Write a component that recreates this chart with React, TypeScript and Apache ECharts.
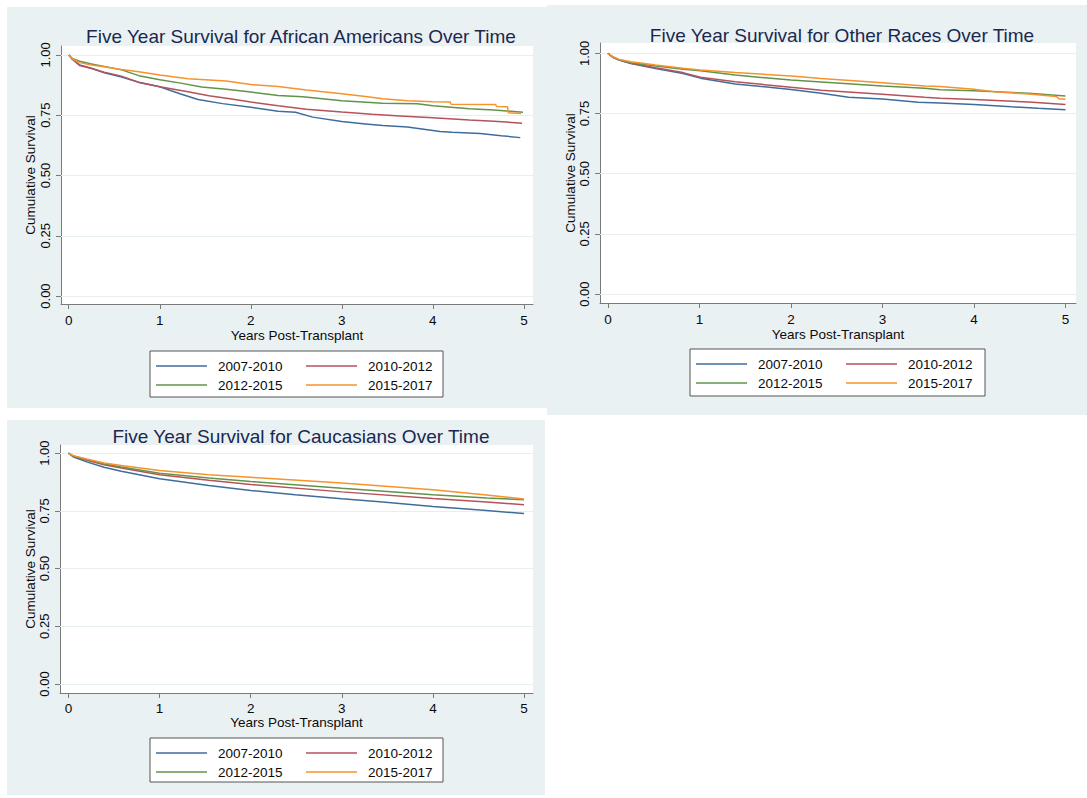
import React, { useEffect, useRef } from "react";
import * as echarts from "echarts";

const FONT = "'Liberation Sans', Arial, Helvetica, sans-serif";

const cohortLabels = ["2007-2010", "2010-2012", "2012-2015", "2015-2017"];
const cohortColors = ["#3e6d9c", "#b5525b", "#62934a", "#f7922c"];

const panelTitles = [
  "Five Year Survival for African Americans Over Time",
  "Five Year Survival for Other Races Over Time",
  "Five Year Survival for Caucasians Over Time",
];
const xTicks = [0, 1, 2, 3, 4, 5];
const yTicks = [0, 0.25, 0.5, 0.75, 1];
const xAxisTitle = "Years Post-Transplant";
const yAxisTitle = "Cumulative Survival";

// African Americans
const aa0710 = [[0,1],[0.04,0.982],[0.12,0.958],[0.25,0.945],[0.39,0.926],[0.58,0.908],[0.77,0.887],[1.0,0.868],[1.23,0.838],[1.42,0.815],[1.69,0.798],[2.0,0.783],[2.3,0.766],[2.49,0.762],[2.68,0.742],[3.0,0.724],[3.26,0.714],[3.45,0.707],[3.72,0.701],[4.0,0.687],[4.08,0.682],[4.21,0.679],[4.52,0.674],[4.75,0.665],[4.96,0.657]];
const aa1012 = [[0,1],[0.04,0.982],[0.12,0.956],[0.25,0.944],[0.39,0.928],[0.58,0.912],[0.77,0.886],[1.0,0.868],[1.31,0.847],[1.54,0.831],[1.77,0.818],[2.0,0.805],[2.3,0.789],[2.61,0.775],[3.0,0.763],[3.33,0.754],[3.64,0.747],[4.0,0.739],[4.4,0.73],[4.67,0.725],[4.98,0.717]];
const aa1215 = [[0,1],[0.04,0.985],[0.12,0.974],[0.25,0.962],[0.39,0.952],[0.58,0.938],[0.77,0.914],[1.0,0.897],[1.23,0.883],[1.46,0.867],[1.73,0.858],[2.0,0.846],[2.3,0.832],[2.57,0.827],[3.0,0.81],[3.45,0.8],[3.83,0.797],[4.0,0.789],[4.4,0.777],[4.67,0.772],[4.99,0.762]];
const aa1517 = [[0,1],[0.04,0.984],[0.12,0.968],[0.25,0.958],[0.39,0.951],[0.58,0.94],[0.77,0.93],[1.0,0.917],[1.31,0.901],[1.5,0.897],[1.73,0.892],[2.0,0.877],[2.3,0.869],[2.61,0.855],[3.0,0.839],[3.26,0.828],[3.45,0.818],[3.72,0.81],[4.0,0.806],[4.19,0.805],[4.2,0.795],[4.69,0.794],[4.7,0.786],[4.82,0.785],[4.83,0.76],[4.97,0.757]];

// Other races
const or0710 = [[0,1],[0.05,0.984],[0.12,0.972],[0.25,0.958],[0.52,0.937],[0.82,0.916],[1.01,0.897],[1.39,0.873],[2.0,0.85],[2.33,0.834],[2.63,0.818],[3.0,0.81],[3.39,0.797],[3.63,0.794],[4.0,0.788],[4.41,0.778],[4.7,0.772],[5.0,0.766]];
const or1012 = [[0,1],[0.05,0.985],[0.12,0.973],[0.25,0.959],[0.52,0.94],[0.82,0.92],[1.01,0.901],[1.39,0.882],[2.0,0.859],[2.33,0.847],[3.0,0.83],[3.46,0.818],[3.63,0.814],[4.0,0.808],[4.6,0.798],[5.0,0.788]];
const or1215 = [[0,1],[0.05,0.986],[0.12,0.974],[0.25,0.961],[0.52,0.947],[0.82,0.934],[1.01,0.928],[1.39,0.91],[2.0,0.889],[2.33,0.881],[3.0,0.864],[3.46,0.855],[3.63,0.849],[4.0,0.845],[4.6,0.834],[5.0,0.823]];
const or1517 = [[0,1],[0.05,0.986],[0.12,0.975],[0.25,0.965],[0.52,0.952],[0.82,0.938],[1.01,0.931],[1.39,0.92],[2.0,0.906],[2.33,0.896],[3.0,0.878],[3.46,0.864],[3.63,0.862],[4.0,0.851],[4.22,0.841],[4.6,0.831],[4.9,0.821],[4.93,0.811],[5.0,0.809]];

// Caucasians
const ca0710 = [[0,1],[0.05,0.984],[0.2,0.962],[0.39,0.939],[0.58,0.921],[1.0,0.889],[1.54,0.86],[2.0,0.838],[2.49,0.82],[3.0,0.802],[3.45,0.788],[4.0,0.769],[4.59,0.751],[5.0,0.738]];
const ca1012 = [[0,1],[0.05,0.987],[0.2,0.969],[0.39,0.949],[0.58,0.935],[1.0,0.906],[1.54,0.882],[2.0,0.864],[3.0,0.832],[4.0,0.803],[4.59,0.788],[5.0,0.776]];
const ca1215 = [[0,1],[0.05,0.988],[0.2,0.972],[0.39,0.954],[0.58,0.94],[1.0,0.913],[1.54,0.892],[2.0,0.877],[3.0,0.848],[4.0,0.82],[4.59,0.806],[5.0,0.798]];
const ca1517 = [[0,1],[0.05,0.989],[0.2,0.974],[0.39,0.957],[0.58,0.946],[1.0,0.925],[1.54,0.906],[2.0,0.895],[3.0,0.87],[4.0,0.841],[4.59,0.818],[5.0,0.801]];

const panelData = [
  [aa0710, aa1012, aa1215, aa1517],
  [or0710, or1012, or1215, or1517],
  [ca0710, ca1012, ca1215, ca1517],
];

// layout (pixels)
const panels = [
  { bg: [7, 7, 540, 401], grid: [61, 46, 472, 258], xr: [-0.085, 5.1], yr: [-0.033, 1.037], title: [296, 33], leg: [150, 351, 293, 46], xGap: 24, yGap: 24, xMargin: 9 },
  { bg: [547, 5, 540, 410], grid: [600, 43, 476, 260], xr: [-0.087, 5.115], yr: [-0.037, 1.043], title: [837, 32], leg: [690, 349, 295, 47], xGap: 24, yGap: 23, xMargin: 9 },
  { bg: [7, 420, 538, 375], grid: [60, 445, 473, 248], xr: [-0.093, 5.099], yr: [-0.039, 1.035], title: [296, 433], leg: [150, 738, 293, 44], xGap: 22, yGap: 23, xMargin: 8 },
];

const BG = "#eaf1f3";
const AXIS = "#7a7a7a";
const TEXT = "#0a0a0a";

export default function App() {
  const ref = useRef<HTMLDivElement>(null);
  useEffect(() => {
    if (!ref.current) return;
    const chart = echarts.init(ref.current, null, { renderer: "svg" });

    const grids: any[] = [];
    const xAxes: any[] = [];
    const yAxes: any[] = [];
    const series: any[] = [];
    const titles: any[] = [];
    const graphics: any[] = [];

    panels.forEach((p, i) => {
      graphics.push({
        type: "rect",
        z: -10,
        shape: { x: p.bg[0], y: p.bg[1], width: p.bg[2], height: p.bg[3] },
        style: { fill: BG },
        silent: true,
      });
      grids.push({
        left: p.grid[0],
        top: p.grid[1],
        width: p.grid[2],
        height: p.grid[3],
        show: true,
        backgroundColor: "#ffffff",
        borderWidth: 0,
        containLabel: false,
      });
      xAxes.push({
        type: "value",
        gridIndex: i,
        min: p.xr[0],
        max: p.xr[1],
        name: xAxisTitle,
        nameLocation: "middle",
        nameGap: p.xGap,
        nameTextStyle: { fontFamily: FONT, fontSize: 13.5, color: TEXT },
        axisLine: { show: true, onZero: false, lineStyle: { color: AXIS, width: 1 } },
        axisTick: { show: true, length: 5, customValues: xTicks, lineStyle: { color: AXIS } },
        axisLabel: { customValues: xTicks, margin: p.xMargin, fontFamily: FONT, fontSize: 13.5, color: TEXT, formatter: (v: number) => String(v) },
        splitLine: { show: false },
      });
      yAxes.push({
        type: "value",
        gridIndex: i,
        min: p.yr[0],
        max: p.yr[1],
        name: yAxisTitle,
        nameLocation: "middle",
        nameGap: p.yGap,
        nameTextStyle: { fontFamily: FONT, fontSize: 13.5, color: TEXT },
        axisLine: { show: true, onZero: false, lineStyle: { color: AXIS, width: 1 } },
        axisTick: { show: true, length: 5, customValues: yTicks, lineStyle: { color: AXIS } },
        axisLabel: { customValues: yTicks, rotate: 90, margin: 9, fontFamily: FONT, fontSize: 13, color: TEXT, formatter: (v: number) => v.toFixed(2) },
        splitLine: { show: false },
      });
      // gridlines (below the curves)
      series.push({
        type: "line",
        xAxisIndex: i,
        yAxisIndex: i,
        data: [],
        z: 1,
        silent: true,
        markLine: {
          z: 1,
          silent: true,
          symbol: "none",
          label: { show: false },
          lineStyle: { color: "#e6eef1", width: 1, type: "solid" },
          data: yTicks.map((v) => ({ yAxis: v })),
          animation: false,
        },
      });
      panelData[i].forEach((d, k) => {
        series.push({
          type: "line",
          name: cohortLabels[k],
          xAxisIndex: i,
          yAxisIndex: i,
          data: d,
          showSymbol: false,
          symbol: "none",
          z: 3,
          lineStyle: { color: cohortColors[k], width: 1.5 },
          itemStyle: { color: cohortColors[k] },
        });
      });
      titles.push({
        text: panelTitles[i],
        left: p.title[0],
        top: p.title[1] - 11,
        textAlign: "center",
        textStyle: { fontFamily: FONT, fontSize: 19, fontWeight: "normal", color: "#1a2850" },
      });
      // legend box
      const [lx, ly, lw, lh] = p.leg;
      graphics.push({
        type: "rect",
        z: 5,
        shape: { x: lx, y: ly, width: lw, height: lh },
        style: { fill: "#ffffff", stroke: "#555555", lineWidth: 1 },
        silent: true,
      });
      cohortLabels.forEach((lab, k) => {
        const col = k % 2;
        const row = Math.floor(k / 2);
        const rowY = ly + (row === 0 ? 15 : 34);
        const lineX = lx + (col === 0 ? 6 : 156);
        const textX = lx + (col === 0 ? 68 : 218);
        graphics.push({
          type: "line",
          z: 6,
          shape: { x1: lineX, y1: rowY, x2: lineX + 51, y2: rowY },
          style: { stroke: cohortColors[k], lineWidth: 1.5 },
          silent: true,
        });
        graphics.push({
          type: "text",
          z: 6,
          x: textX,
          y: rowY,
          style: { text: lab, fontFamily: FONT, fontSize: 13.5, fill: TEXT, align: "left", verticalAlign: "middle" },
          silent: true,
        });
      });
    });

    chart.setOption({
      animation: false,
      backgroundColor: "#ffffff",
      title: titles,
      grid: grids,
      xAxis: xAxes,
      yAxis: yAxes,
      series,
      graphic: graphics,
    });
    return () => chart.dispose();
  }, []);
  return (
    <div
      ref={ref}
      style={{ position: "absolute", left: 0, top: 0, width: 1087, height: 798 }}
    />
  );
}
